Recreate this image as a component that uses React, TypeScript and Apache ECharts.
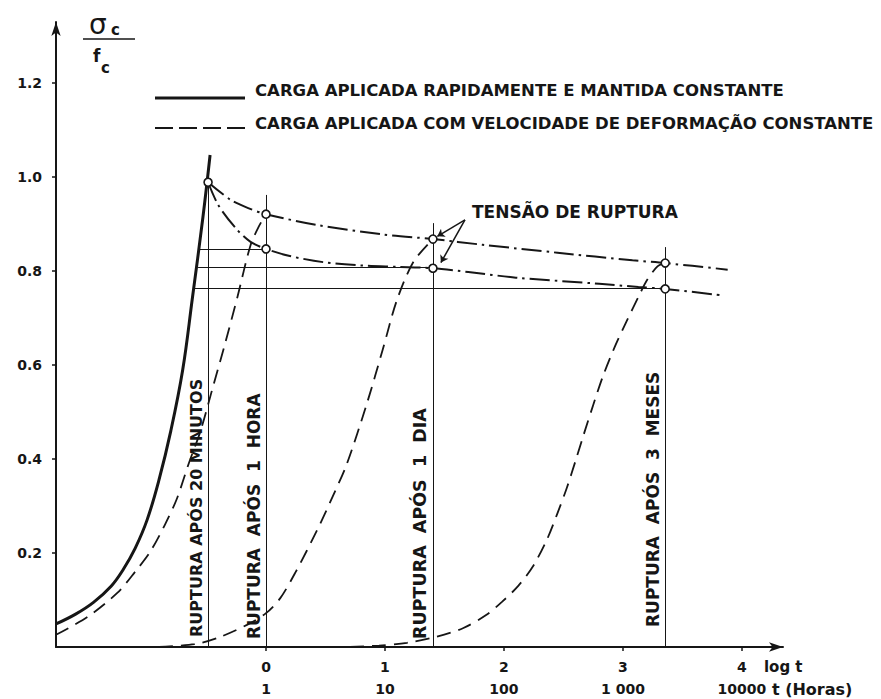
import React, { useEffect, useRef } from 'react';
import * as echarts from 'echarts';

// ---- axes ----
const X_MIN = -1.765;
const X_MAX = 4.345;
const Y_MAX = 1.33;
const logTicks = [0, 1, 2, 3, 4];
const logTickLabels = ['0', '1', '2', '3', '4'];
const hourTickLabels = ['1', '10', '100', '1 000', '10000'];
const yTicks = [0.2, 0.4, 0.6, 0.8, 1.0, 1.2];

// ---- legend names ----
const LEG_SOLID = 'CARGA APLICADA RAPIDAMENTE E MANTIDA CONSTANTE';
const LEG_DASHED = 'CARGA APLICADA COM VELOCIDADE DE DEFORMAÇÃO CONSTANTE';

// ---- curves (x = log t [h], y = σc / fc) ----
const solidCurve = [
  [-1.765, 0.049], [-1.6, 0.07], [-1.45, 0.095], [-1.3, 0.13], [-1.2, 0.165], [-1.1, 0.21],
  [-1.0, 0.27], [-0.9, 0.355], [-0.8, 0.46], [-0.7, 0.59], [-0.62, 0.74], [-0.53, 0.915],
  [-0.47, 1.047],
];
const dashed1h = [
  [-1.765, 0.026], [-1.5, 0.064], [-1.25, 0.115], [-1.1, 0.16], [-0.975, 0.202],
  [-0.85, 0.26], [-0.75, 0.315], [-0.65, 0.39], [-0.55, 0.46], [-0.45, 0.55],
  [-0.35, 0.64], [-0.24, 0.745], [-0.13, 0.855], [-0.06, 0.895], [0, 0.921],
];
const dashed1dia = [
  [-0.9, 0.0], [-0.6, 0.006], [-0.4, 0.02], [-0.16, 0.047], [0, 0.072], [0.12, 0.104],
  [0.25, 0.16], [0.43, 0.249], [0.56, 0.32], [0.68, 0.39], [0.85, 0.52], [0.98, 0.632],
  [1.1, 0.738], [1.24, 0.82], [1.403, 0.868],
];
const dashed3meses = [
  [0.706, 0.0], [0.95, 0.003], [1.185, 0.009], [1.42, 0.021], [1.655, 0.04], [1.85, 0.068],
  [1.983, 0.096], [2.12, 0.13], [2.244, 0.172], [2.36, 0.228], [2.45, 0.285], [2.53, 0.34],
  [2.6, 0.395], [2.67, 0.452], [2.75, 0.515], [2.83, 0.575], [2.93, 0.638], [3.03, 0.693],
  [3.13, 0.745], [3.2, 0.78], [3.29, 0.81], [3.355, 0.817],
];
const ruptureUpper = [
  [-0.487, 0.989], [-0.3, 0.952], [-0.15, 0.934], [0, 0.921], [0.43, 0.898], [0.98, 0.878],
  [1.403, 0.868], [1.82, 0.856], [2.45, 0.839], [3.08, 0.823], [3.355, 0.817], [3.88, 0.803],
];
const ruptureLower = [
  [-0.487, 0.989], [-0.4, 0.94], [-0.25, 0.89], [-0.13, 0.862], [0, 0.847], [0.2, 0.832],
  [0.48, 0.819], [0.8, 0.812], [1.1, 0.809], [1.403, 0.806], [1.7, 0.798], [2.1, 0.786],
  [2.8, 0.773], [3.13, 0.766], [3.355, 0.762], [3.84, 0.748],
];
const ruptureCircles = [
  [-0.487, 0.989], [0, 0.921], [0, 0.847], [1.403, 0.868], [1.403, 0.806],
  [3.355, 0.817], [3.355, 0.762],
];

// ---- rupture times (vertical lines) ----
const ruptureTimes = [-0.487, 0, 1.403, 3.355];
const ruptureTops = [0.989, 0.962, 0.902, 0.851];
const ruptureLabels = [
  'RUPTURA APÓS 20 MINUTOS',
  'RUPTURA  APÓS  1  HORA',
  'RUPTURA  APÓS  1  DIA',
  'RUPTURA  APÓS  3  MESES',
];
const ruptureLabelSizes = [16, 17, 17.5, 17];
const ruptureLabelLift = [10, 8, 8, 20];

// ---- horizontal reference lines ----
const hLevels = [0.847, 0.809, 0.764];
const hStarts = [-0.555, -0.571, -0.597];
const hEnds = [0, 1.403, 3.355];

// ---- "tensão de ruptura" arrows ----
const arrowFrom = [1.672, 0.909];
const arrowTargets = [[1.44, 0.874], [1.47, 0.818]];

const INK = '#161616';
const FONT = 'DejaVu Sans';

export default function App() {
  const ref = useRef<HTMLDivElement>(null);

  useEffect(() => {
    if (!ref.current) return;
    const chart = echarts.init(ref.current, null, { renderer: 'svg' });

    const curve = (name: string, data: number[][], lineStyle: any, smooth = 0.3) => ({
      type: 'line',
      name,
      data,
      smooth,
      showSymbol: false,
      symbol: 'none',
      silent: true,
      lineStyle: { color: INK, ...lineStyle },
      itemStyle: { color: INK },
      z: 3,
    });

    const solidStyle = { width: 3 };
    const dashStyle = { width: 1.8, type: [14, 8] };
    const dashDot = { width: 2, type: [20, 5, 2.5, 5] };

    const thinLines = [
      ...ruptureTimes.map((t, i) => ({ coords: [[t, 0], [t, ruptureTops[i]]] })),
      ...hLevels.map((v, i) => ({ coords: [[hStarts[i], v], [hEnds[i], v]] })),
    ];

    const option: any = {
      animation: false,
      backgroundColor: '#ffffff',
      grid: { left: 56, right: 98, top: 22, bottom: 52, outerBoundsMode: 'none', containLabel: false },
      xAxis: {
        type: 'value',
        min: X_MIN,
        max: X_MAX,
        splitLine: { show: false },
        axisLine: {
          onZero: false,
          lineStyle: { color: INK, width: 2 },
          symbol: ['none', 'arrow'],
          symbolSize: [7, 14],
        },
        axisTick: { customValues: logTicks, length: 4, lineStyle: { color: INK, width: 1.5 } },
        axisLabel: {
          customValues: logTicks,
          margin: 9,
          lineHeight: 22,
          fontFamily: FONT,
          fontWeight: 'bold',
          fontSize: 14,
          color: INK,
          formatter: (v: number) => {
            const i = logTicks.indexOf(Math.round(v));
            return `${logTickLabels[i]}\n${hourTickLabels[i]}`;
          },
        },
      },
      yAxis: {
        type: 'value',
        min: 0,
        max: Y_MAX,
        splitLine: { show: false },
        axisLine: {
          onZero: false,
          lineStyle: { color: INK, width: 2 },
          symbol: ['none', 'arrow'],
          symbolSize: [7, 14],
        },
        axisTick: { customValues: yTicks, length: 4, lineStyle: { color: INK, width: 1.5 } },
        axisLabel: {
          customValues: yTicks,
          margin: 14,
          fontFamily: FONT,
          fontWeight: 'bold',
          fontSize: 14,
          color: INK,
          formatter: (v: number) => v.toFixed(1),
        },
      },
      series: [
        curve(LEG_SOLID, solidCurve, solidStyle, 0.4),
        curve(LEG_DASHED, dashed1h, dashStyle),
        curve(LEG_DASHED, dashed1dia, dashStyle),
        curve(LEG_DASHED, dashed3meses, dashStyle),
        curve('Tensão de ruptura (sup.)', ruptureUpper, dashDot),
        curve('Tensão de ruptura (inf.)', ruptureLower, dashDot),
        {
          type: 'lines',
          coordinateSystem: 'cartesian2d',
          silent: true,
          data: thinLines,
          lineStyle: { color: INK, width: 1, opacity: 1, curveness: 0 },
          z: 2,
        },
        {
          type: 'lines',
          coordinateSystem: 'cartesian2d',
          silent: true,
          symbol: ['none', 'arrow'],
          symbolSize: 7,
          data: arrowTargets.map((p) => ({ coords: [arrowFrom, p] })),
          lineStyle: { color: INK, width: 1.5, opacity: 1, curveness: 0 },
          z: 4,
        },
        {
          type: 'scatter',
          silent: true,
          data: ruptureCircles,
          symbol: 'circle',
          symbolSize: 8,
          itemStyle: { color: '#ffffff', borderColor: INK, borderWidth: 1.6, opacity: 1 },
          z: 10,
        },
      ],
    };

    chart.setOption(option);

    const [arrowPx, arrowPy] = chart.convertToPixel({ gridIndex: 0 }, arrowFrom) as number[];
    const [x4] = chart.convertToPixel({ gridIndex: 0 }, [4, 0]) as number[];
    const [, yAxisPx] = chart.convertToPixel({ gridIndex: 0 }, [0, 0]) as number[];

    const rotated = ruptureTimes.map((t, i) => {
      const [px, py] = chart.convertToPixel({ gridIndex: 0 }, [t, 0]) as number[];
      return {
        type: 'text',
        x: px - 4,
        y: py - ruptureLabelLift[i],
        rotation: Math.PI / 2,
        silent: true,
        style: {
          text: ruptureLabels[i],
          font: `bold ${ruptureLabelSizes[i]}px "${FONT}"`,
          fill: INK,
          align: 'left',
          verticalAlign: 'bottom',
        },
      };
    });

    const boldText = (text: string, x: number, y: number, size: number, extra: any = {}) => ({
      type: 'text',
      x,
      y,
      silent: true,
      style: {
        text,
        font: `bold ${size}px "${FONT}"`,
        fill: INK,
        align: 'left',
        verticalAlign: 'middle',
        ...extra,
      },
    });

    // legend (line samples + names)
    const legend = [
      {
        type: 'line', silent: true,
        shape: { x1: 155, y1: 98, x2: 245, y2: 98 },
        style: { stroke: INK, lineWidth: solidStyle.width },
      },
      {
        type: 'line', silent: true,
        shape: { x1: 155, y1: 128, x2: 245, y2: 128 },
        style: { stroke: INK, lineWidth: dashStyle.width, lineDash: [18, 6] },
      },
      boldText(LEG_SOLID, 255, 90, 16.5),
      boldText(LEG_DASHED, 255, 123, 16.5),
    ];

    chart.setOption({
      graphic: [
        ...legend,
        ...rotated,
        boldText('TENSÃO DE RUPTURA', arrowPx + 7, arrowPy - 8, 17),
        boldText('log t', x4 + 22, yAxisPx + 20, 15),
        boldText('t (Horas)', x4 + 30, yAxisPx + 42, 16),
        {
          type: 'text', x: 89, y: 24, silent: true,
          style: { text: 'σ', font: `28px "${FONT}"`, fill: INK, align: 'left', verticalAlign: 'middle' },
        },
        boldText('c', 111, 30, 15),
        {
          type: 'line', silent: true,
          shape: { x1: 83, y1: 39, x2: 135, y2: 39 },
          style: { stroke: INK, lineWidth: 1.6 },
        },
        boldText('f', 93, 56, 17),
        boldText('c', 101, 68, 15),
      ],
    });

    return () => chart.dispose();
  }, []);

  return (
    <div
      ref={ref}
      style={{ position: 'fixed', left: 0, top: 0, width: 881, height: 699, background: '#fff' }}
    />
  );
}
